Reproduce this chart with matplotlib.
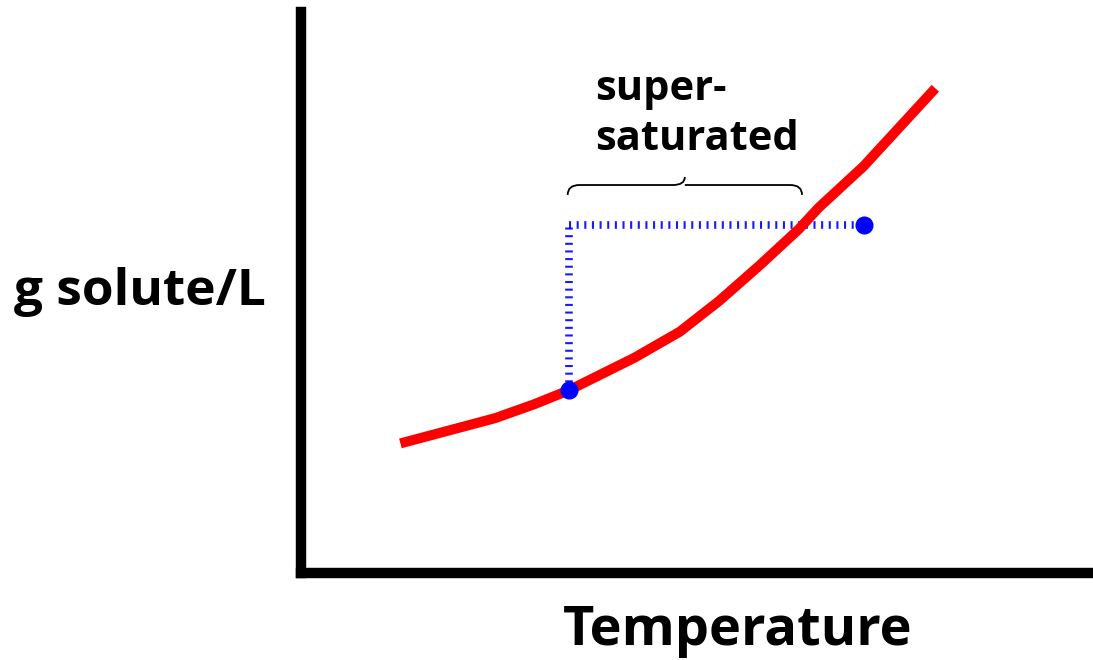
import matplotlib.pyplot as plt
from matplotlib.path import Path
from matplotlib.patches import PathPatch

# solubility curve (arbitrary units, axes span 0..10)
temp = [1.26, 2.46, 2.96, 3.40, 4.23, 4.80, 5.30, 5.81, 6.31, 6.56, 7.13, 8.04]
solute = [2.31, 2.76, 3.01, 3.26, 3.84, 4.30, 4.85, 5.48, 6.13, 6.51, 7.25, 8.64]

# saturated point on the curve and supersaturated point
sat_pt = (3.40, 3.26)
super_pt = (7.13, 6.20)

# brace span
brace_x = (3.38, 6.35)
brace_y = 6.74

plt.rcParams['lines.scale_dashes'] = False
fig = plt.figure(figsize=(10.93, 6.6), dpi=100)
ax = fig.add_axes([301 / 1093, 87 / 660, (1090 - 301) / 1093, (573 - 12) / 660])
ax.set_xlim(0, 10)
ax.set_ylim(0, 10)

for side in ['top', 'right']:
    ax.spines[side].set_visible(False)
for side in ['left', 'bottom']:
    ax.spines[side].set_linewidth(7.5)
    ax.spines[side].set_capstyle('projecting')
ax.set_xticks([])
ax.set_yticks([])

ax.plot(temp, solute, color='red', lw=7.2, solid_capstyle='butt', zorder=3)

# dotted guide lines
ax.plot([sat_pt[0], super_pt[0]], [super_pt[1], super_pt[1]], color='blue',
        lw=5.5, dashes=(1.5, 4.0), alpha=0.9, zorder=2)
ax.plot([sat_pt[0], sat_pt[0]], [sat_pt[1], super_pt[1]], color='blue',
        lw=5.5, dashes=(1.5, 4.0), alpha=0.9, zorder=2)
ax.plot(*zip(sat_pt, super_pt), ls='none', marker='o', ms=12, color='blue', zorder=4)

# curly brace
x0, x1 = brace_x
xm = (x0 + x1) / 2
h = 0.32
verts = [(x0, brace_y), (x0, brace_y + h * 0.55), (x0 + 0.15, brace_y + h * 0.55),
         (xm - 0.15, brace_y + h * 0.55), (xm, brace_y + h * 0.55), (xm, brace_y + h),
         (xm, brace_y + h * 0.55), (xm + 0.15, brace_y + h * 0.55),
         (x1 - 0.15, brace_y + h * 0.55), (x1, brace_y + h * 0.55), (x1, brace_y)]
codes = [Path.MOVETO, Path.CURVE3, Path.CURVE3, Path.LINETO, Path.CURVE3, Path.CURVE3,
         Path.MOVETO, Path.CURVE3, Path.LINETO, Path.CURVE3, Path.CURVE3]
ax.add_patch(PathPatch(Path(verts, codes), fill=False, lw=1.3, color='black'))

ax.text(3.73, 8.43, 'super-', fontsize=30, fontweight='bold',
        family='Open Sans', va='baseline', ha='left')
ax.text(3.73, 7.54, 'saturated', fontsize=30, fontweight='bold',
        family='Open Sans', va='baseline', ha='left')

fig.text(14 / 1093, 1 - 305 / 660, 'g solute/L', fontsize=37, fontweight='bold',
         family='Open Sans', va='baseline', ha='left')
fig.text(738 / 1093, 1 - 645 / 660, 'Temperature', fontsize=39, fontweight='bold',
         family='Open Sans', va='baseline', ha='center')

fig.savefig('out.png', dpi=100)
